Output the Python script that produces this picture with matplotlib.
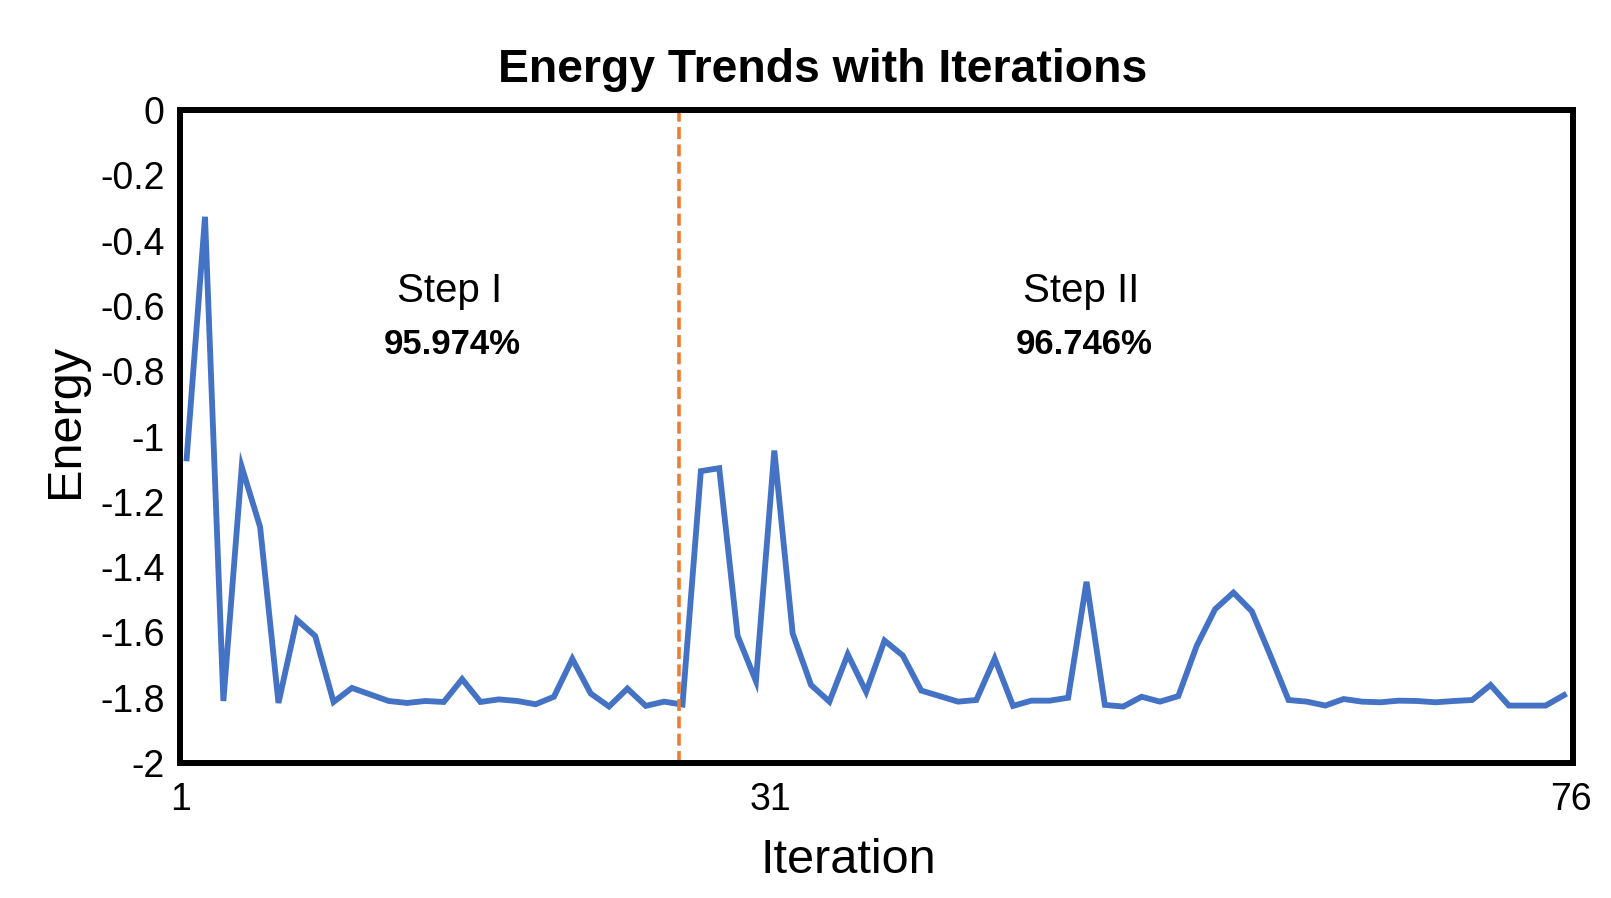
import matplotlib
matplotlib.use('Agg')
import matplotlib.pyplot as plt

plt.rcParams['font.family'] = ['Liberation Sans', 'DejaVu Sans']

# Energy per iteration
iterations = list(range(1, 77))
energy = [-1.067, -0.327, -1.810, -1.093, -1.277, -1.816, -1.561, -1.611, -1.813, -1.770,
          -1.790, -1.810, -1.816, -1.810, -1.813, -1.743, -1.813, -1.805, -1.810, -1.820,
          -1.797, -1.681, -1.787, -1.827, -1.772, -1.825, -1.812, -1.821, -1.106, -1.097,
          -1.610, -1.749, -1.043, -1.603, -1.761, -1.812, -1.667, -1.782, -1.625, -1.671,
          -1.778, -1.795, -1.812, -1.807, -1.680, -1.825, -1.809, -1.809, -1.800, -1.445,
          -1.822, -1.827, -1.797, -1.812, -1.795, -1.641, -1.529, -1.478, -1.535, -1.669,
          -1.807, -1.812, -1.824, -1.804, -1.812, -1.814, -1.809, -1.810, -1.814, -1.810,
          -1.807, -1.761, -1.824, -1.824, -1.824, -1.792]

split_at = 27.79          # boundary between the two steps
xtick_pos = [0.69, 32.77, 76.4]
xtick_labels = ['1', '31', '76']
yticks = [0, -0.2, -0.4, -0.6, -0.8, -1, -1.2, -1.4, -1.6, -1.8, -2]
ytick_labels = ['0', '-0.2', '-0.4', '-0.6', '-0.8', '-1', '-1.2', '-1.4', '-1.6', '-1.8', '-2']

step_names = ['Step I', 'Step II']
step_scores = ['95.974%', '96.746%']
step_x = [15.3, 49.7]

fig = plt.figure(figsize=(16.11, 8.98), dpi=100)
ax = fig.add_axes([0.1117, 0.1503, 0.8647, 0.7272])

ax.plot(iterations, energy, color='#4472C4', linewidth=4.2, solid_joinstyle='miter')
ax.axvline(split_at, color='#ED7D31', linewidth=2.6, linestyle=(0, (3.3, 1.5)))

ax.set_xlim(0.635, 76.49)
ax.set_ylim(-2, 0)

ax.set_xticks(xtick_pos)
ax.set_xticklabels(xtick_labels)
ax.set_yticks(yticks)
ax.set_yticklabels(ytick_labels)
ax.tick_params(axis='both', length=0, labelsize=27)
ax.tick_params(axis='y', pad=11)
ax.tick_params(axis='x', pad=14)

for sp in ax.spines.values():
    sp.set_linewidth(4.3)
    sp.set_color('black')

for name, score, x in zip(step_names, step_scores, step_x):
    ax.text(x, -0.555, name, ha='center', va='center', fontsize=29)
    ax.text(x + 0.15, -0.717, score, ha='center', va='center', fontsize=25, fontweight='bold')

ax.set_xlabel('Iteration', fontsize=35)
ax.xaxis.set_label_coords(0.480, -0.115)
ax.set_ylabel('Energy', fontsize=35)
ax.yaxis.set_label_coords(-0.066, 0.524)

fig.text(823 / 1611, 1 - 70 / 898, 'Energy Trends with Iterations', ha='center', va='center',
         fontsize=33.4, fontweight='bold')

fig.savefig('out.png', dpi=100)
